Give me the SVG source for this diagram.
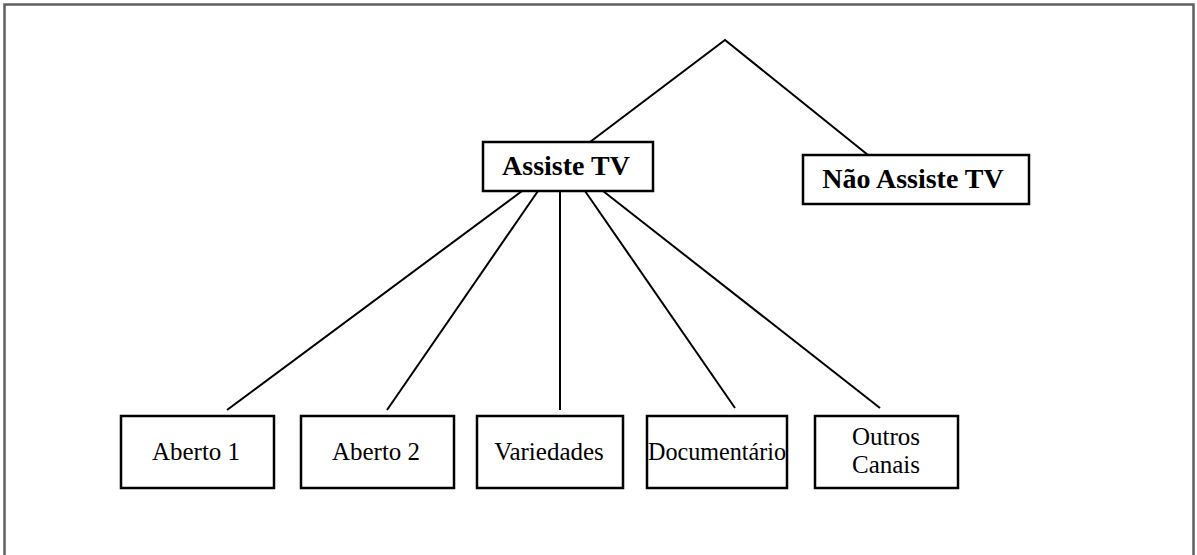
<svg xmlns="http://www.w3.org/2000/svg" width="1197" height="555" viewBox="0 0 1197 555">
<style>
.box{fill:#fff;stroke:#000;stroke-width:2.5}
.ln{stroke:#000;stroke-width:2;fill:none}
.b{font-family:"Liberation Serif",serif;font-weight:bold;font-size:28px;text-anchor:middle;fill:#000}
.r{font-family:"Liberation Serif",serif;font-size:25px;text-anchor:middle;fill:#000}
</style>
<rect x="0" y="0" width="1197" height="555" fill="#fff"/>
<rect x="4.5" y="4.5" width="1189" height="600" fill="none" stroke="#606060" stroke-width="2.5"/>
<g id="connectors">
<polyline class="ln" points="590,142 725,40 868,155"/>
<line class="ln" x1="522" y1="191" x2="227" y2="410"/>
<line class="ln" x1="538" y1="191" x2="387" y2="410"/>
<line class="ln" x1="560" y1="191" x2="560" y2="410"/>
<line class="ln" x1="585" y1="191" x2="735" y2="408"/>
<line class="ln" x1="603" y1="191" x2="880" y2="408"/>
</g>
<g id="assiste"><rect class="box" x="483" y="142" width="170" height="49"/><text class="b" x="566" y="175">Assiste TV</text></g>
<g id="nao-assiste"><rect class="box" x="803" y="155" width="226" height="49"/><text class="b" x="913" y="188">Não Assiste TV</text></g>
<g id="aberto1"><rect class="box" x="121" y="416" width="153" height="72"/><text class="r" x="196" y="460">Aberto 1</text></g>
<g id="aberto2"><rect class="box" x="301" y="416" width="153" height="72"/><text class="r" x="376" y="460">Aberto 2</text></g>
<g id="variedades"><rect class="box" x="477" y="416" width="146" height="72"/><text class="r" x="549" y="460">Variedades</text></g>
<g id="documentario"><rect class="box" x="647" y="416" width="140" height="72"/><text class="r" x="717" y="460" textLength="138" lengthAdjust="spacingAndGlyphs">Documentário</text></g>
<g id="outros"><rect class="box" x="815" y="416" width="143" height="72"/><text class="r" x="886" y="445">Outros</text><text class="r" x="886" y="473">Canais</text></g>
</svg>
